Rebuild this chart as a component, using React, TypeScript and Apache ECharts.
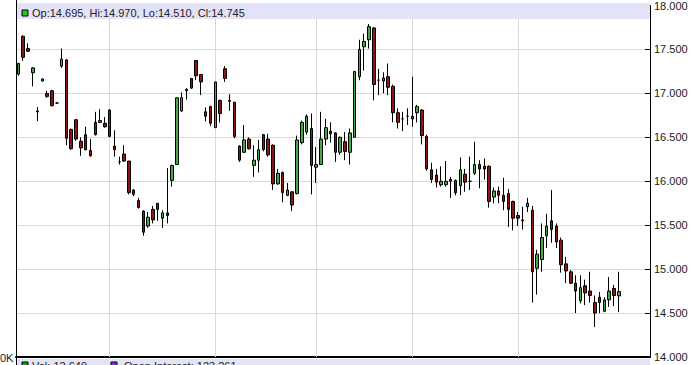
import React, { useEffect, useRef } from "react";
import * as echarts from "echarts";

// Daily OHLC (126 sessions)
const opens = [
  17.22, 17.65, 17.51, 17.235, 16.8, 17.14, 17.0, 17.03, 16.89, 17.31,
  17.38, 16.59, 16.7, 16.455, 16.53, 16.35, 16.67, 16.67, 16.66, 16.81,
  16.4, 16.22, 16.31, 16.23, 15.9, 15.78, 15.66, 15.49, 15.68, 15.75,
  15.58, 15.64, 16.01, 16.19, 16.8, 17.03, 17.17, 17.375, 17.215, 16.79,
  16.85, 16.61, 16.92, 17.28, 16.92, 16.9, 16.4, 16.33, 16.48, 16.18,
  16.24, 16.53, 16.48, 16.41, 15.97, 16.1, 15.84, 15.88, 15.86, 16.44,
  16.56, 16.6, 16.16, 16.19, 16.48, 16.57, 16.55, 16.33, 16.45, 16.33,
  16.5, 17.19, 17.53, 17.61, 17.745, 17.15, 17.14, 17.19, 17.08, 16.78,
  16.71, 16.74, 16.74, 16.78, 16.81, 16.51, 16.13, 16.07, 15.96, 15.96,
  16.02, 16.01, 15.95, 16.08, 16.0, 16.09, 16.19, 16.17, 16.17, 15.82,
  15.89, 15.84, 15.86, 15.77, 15.61, 15.55, 15.71, 15.67, 15.01, 15.11,
  15.38, 15.55, 15.49, 15.33, 15.06, 14.97, 14.84, 14.64, 14.81, 14.75,
  14.62, 14.68, 14.52, 14.65, 14.78, 14.695,
];
const closes = [
  17.34, 17.41, 17.48, 17.29, 16.79, 17.165, 16.965, 16.86, 16.89, 17.39,
  16.49, 16.37, 16.48, 16.38, 16.36, 16.29, 16.53, 16.69, 16.62, 16.51,
  16.36, 16.22, 16.23, 15.87, 15.85, 15.7, 15.42, 15.59, 15.56, 15.68,
  15.64, 15.61, 16.18, 16.95, 16.95, 17.045, 17.06, 17.2, 17.13, 16.74,
  16.66, 17.13, 16.77, 17.17, 16.91, 16.51, 16.24, 16.47, 16.37, 16.24,
  16.36, 16.36, 16.3, 15.97, 16.09, 15.87, 15.9, 15.73, 16.47, 16.67,
  16.74, 16.18, 16.19, 16.48, 16.61, 16.54, 16.33, 16.5, 16.34, 16.55,
  17.25, 17.5, 17.59, 17.76, 17.1, 17.15, 17.175, 17.07, 16.78, 16.67,
  16.71, 16.74, 16.71, 16.85, 16.52, 16.14, 16.02, 15.99, 16.0, 16.0,
  16.0, 15.87, 16.13, 15.99, 16.0, 16.19, 16.14, 16.14, 15.77, 15.89,
  15.84, 15.77, 15.68, 15.58, 15.58, 15.56, 15.75, 14.97, 15.17, 15.36,
  15.49, 15.45, 15.31, 15.05, 14.98, 14.84, 14.75, 14.79, 14.73, 14.7,
  14.5, 14.62, 14.65, 14.75, 14.7, 14.745,
];
const lows = [
  17.2, 17.37, 17.47, 17.08, 16.685, 17.135, 16.95, 16.85, 16.88, 17.29,
  16.41, 16.36, 16.46, 16.29, 16.35, 16.28, 16.52, 16.66, 16.61, 16.5,
  16.28, 16.19, 16.22, 15.85, 15.83, 15.69, 15.38, 15.47, 15.52, 15.55,
  15.47, 15.52, 15.94, 16.19, 16.79, 16.93, 17.05, 17.15, 16.98, 16.68,
  16.63, 16.61, 16.67, 17.13, 16.8, 16.49, 16.22, 16.32, 16.36, 16.05,
  16.1, 16.34, 16.28, 15.9, 15.96, 15.76, 15.83, 15.66, 15.85, 16.42,
  16.53, 15.85, 15.98, 16.19, 16.41, 16.44, 16.22, 16.3, 16.24, 16.19,
  16.5, 17.15, 17.26, 17.51, 16.92, 16.98, 17.0, 16.98, 16.67, 16.6,
  16.57, 16.64, 16.62, 16.67, 16.42, 16.12, 15.98, 15.93, 15.94, 15.94,
  15.81, 15.84, 15.84, 15.88, 15.9, 16.07, 15.92, 16.02, 15.7, 15.75,
  15.75, 15.67, 15.48, 15.44, 15.49, 15.45, 15.65, 14.62, 14.71, 14.97,
  15.24, 15.3, 15.24, 14.96, 14.84, 14.83, 14.5, 14.61, 14.59, 14.62,
  14.34, 14.5, 14.51, 14.57, 14.58, 14.51,
];
const highs = [
  17.35, 17.66, 17.57, 17.3, 16.845, 17.17, 17.03, 17.04, 16.9, 17.51,
  17.39, 16.6, 16.71, 16.5, 16.62, 16.48, 16.79, 16.82, 16.73, 16.82,
  16.58, 16.28, 16.41, 16.23, 15.91, 15.81, 15.67, 15.65, 15.72, 15.75,
  15.67, 16.15, 16.19, 16.95, 17.01, 17.06, 17.17, 17.38, 17.22, 16.84,
  16.86, 17.13, 16.93, 17.31, 16.99, 16.9, 16.41, 16.64, 16.5, 16.41,
  16.47, 16.54, 16.54, 16.42, 16.14, 16.11, 15.98, 15.88, 16.52, 16.69,
  16.76, 16.77, 16.39, 16.79, 16.71, 16.67, 16.56, 16.51, 16.56, 16.6,
  17.25, 17.61, 17.68, 17.79, 17.75, 17.28, 17.24, 17.34, 17.1, 16.83,
  16.79, 16.83, 17.19, 16.87, 16.82, 16.53, 16.21, 16.14, 16.17, 16.23,
  16.05, 16.02, 16.27, 16.14, 16.28, 16.45, 16.24, 16.26, 16.18, 15.93,
  15.94, 16.04, 15.91, 15.78, 15.65, 15.71, 15.81, 15.72, 15.22, 15.52,
  15.63, 15.9, 15.52, 15.36, 15.14, 14.99, 14.93, 14.93, 14.88, 14.97,
  14.7, 14.74, 14.68, 14.91, 14.82, 14.97,
];

// empty sessions to the right of the last candle
const emptySlots = 6;
// first session of each month (vertical grid lines)
const monthStarts = [19, 41, 62, 82, 104];

const yMin = 14;
const yMax = 18;
const yStep = 0.5;

const volumeText = "Vol: 12,649";
const oiText = "Open Interest: 123,261";
const volAxisLabel = "0K";

const FONT = '"Liberation Sans", Arial, sans-serif';

export default function App() {
  const ref = useRef<HTMLDivElement>(null);

  useEffect(() => {
    const chart = echarts.init(ref.current!, null, { renderer: "svg" });
    const n = opens.length + emptySlots;
    const categories = Array.from({ length: n }, (_, i) => "S" + (i + 1));
    const candleData = opens.map((o, i) => [o, closes[i], lows[i], highs[i]]);
    const last = opens.length - 1;
    const f3 = (v: number) => v.toFixed(3);
    const header = `Op:${f3(opens[last])}, Hi:${f3(highs[last])}, Lo:${f3(lows[last])}, Cl:${f3(closes[last])}`;

    chart.setOption({
      animation: false,
      backgroundColor: "#ffffff",
      grid: { left: 16, right: 42, top: 5, bottom: 8, containLabel: false },
      xAxis: {
        type: "category",
        data: categories,
        boundaryGap: true,
        axisLine: { show: true, onZero: false, lineStyle: { color: "#000", width: 2 } },
        axisTick: { show: false },
        axisLabel: { show: false },
        splitLine: { show: false },
      },
      yAxis: [
        {
          type: "value",
          position: "right",
          min: yMin,
          max: yMax,
          interval: yStep,
          axisLine: { show: true, lineStyle: { color: "#000", width: 1 } },
          axisTick: { show: true, inside: true, length: 5, lineStyle: { color: "#000" } },
          axisLabel: {
            margin: 4,
            color: "#1a1a1a",
            fontFamily: FONT,
            fontSize: 11,
            formatter: (v: number) => v.toFixed(3),
          },
          splitLine: { show: true, lineStyle: { color: "#d9d9d9", width: 1 } },
        },
        {
          type: "value",
          position: "left",
          min: yMin,
          max: yMax,
          interval: yStep,
          axisLine: { show: true, lineStyle: { color: "#000", width: 1 } },
          axisTick: { show: false },
          axisLabel: { show: false },
          splitLine: { show: false },
        },
      ],
      series: [
        {
          type: "line",
          data: categories.map(() => null),
          symbol: "none",
          silent: true,
          z: 1,
          markLine: {
            z: 1,
            silent: true,
            symbol: ["none", "none"],
            label: { show: false },
            lineStyle: { color: "#d9d9d9", type: "solid", width: 1 },
            data: monthStarts.map((i) => ({ xAxis: categories[i] })),
          },
        },
        {
          type: "candlestick",
          data: candleData,
          barWidth: 3,
          z: 3,
          itemStyle: {
            color: "#45a845",
            color0: "#8e1515",
            borderColor: "#000",
            borderColor0: "#000",
            borderWidth: 1,
          },
          markLine: {
            z: 12,
            silent: true,
            symbol: ["none", "none"],
            lineStyle: { opacity: 0 },
            label: {
              show: true,
              position: "end",
              distance: 2,
              formatter: () => f3(closes[last]),
              backgroundColor: "#000",
              color: "#fff",
              fontFamily: FONT,
              fontSize: 11,
              padding: [2, 2, 1, 2],
            },
            data: [{ yAxis: closes[last] }],
          },
        },
      ],
      graphic: [
        {
          type: "rect",
          z: 10,
          silent: true,
          shape: { x: 16, y: 3, width: 634, height: 16 },
          style: { fill: "#e2e2f9" },
        },
        {
          type: "rect",
          z: 11,
          silent: true,
          shape: { x: 22, y: 10, width: 6, height: 6 },
          style: { fill: "#22c822", stroke: "#000", lineWidth: 1 },
        },
        {
          type: "text",
          z: 11,
          silent: true,
          x: 32,
          y: 13,
          style: { text: header, font: `11px ${FONT}`, fill: "#222", verticalAlign: "middle", align: "left" },
        },
        {
          type: "rect",
          z: 10,
          silent: true,
          shape: { x: 16, y: 359, width: 634, height: 8 },
          style: { fill: "#e2e2f9" },
        },
        {
          type: "rect",
          z: 11,
          silent: true,
          shape: { x: 22, y: 362, width: 6, height: 6 },
          style: { fill: "#1e9a1e", stroke: "#000", lineWidth: 1 },
        },
        {
          type: "text",
          z: 11,
          silent: true,
          x: 32,
          y: 360,
          style: { text: volumeText, font: `11px ${FONT}`, fill: "#222", verticalAlign: "top", align: "left" },
        },
        {
          type: "rect",
          z: 11,
          silent: true,
          shape: { x: 111, y: 362, width: 6, height: 6 },
          style: { fill: "#8a2be2", stroke: "#000", lineWidth: 1 },
        },
        {
          type: "text",
          z: 11,
          silent: true,
          x: 124,
          y: 360,
          style: { text: oiText, font: `11px ${FONT}`, fill: "#222", verticalAlign: "top", align: "left" },
        },
        {
          type: "text",
          z: 11,
          silent: true,
          x: 0,
          y: 358,
          style: { text: volAxisLabel, font: `11px ${FONT}`, fill: "#222", verticalAlign: "middle", align: "left" },
        },
        {
          type: "line",
          z: 12,
          silent: true,
          shape: { x1: 16.5, y1: 0, x2: 16.5, y2: 365 },
          style: { stroke: "#000", lineWidth: 1 },
        },
      ],
    });

    return () => chart.dispose();
  }, []);

  return (
    <div
      ref={ref}
      style={{ position: "fixed", left: 0, top: 0, width: 692, height: 365, background: "#fff" }}
    />
  );
}
